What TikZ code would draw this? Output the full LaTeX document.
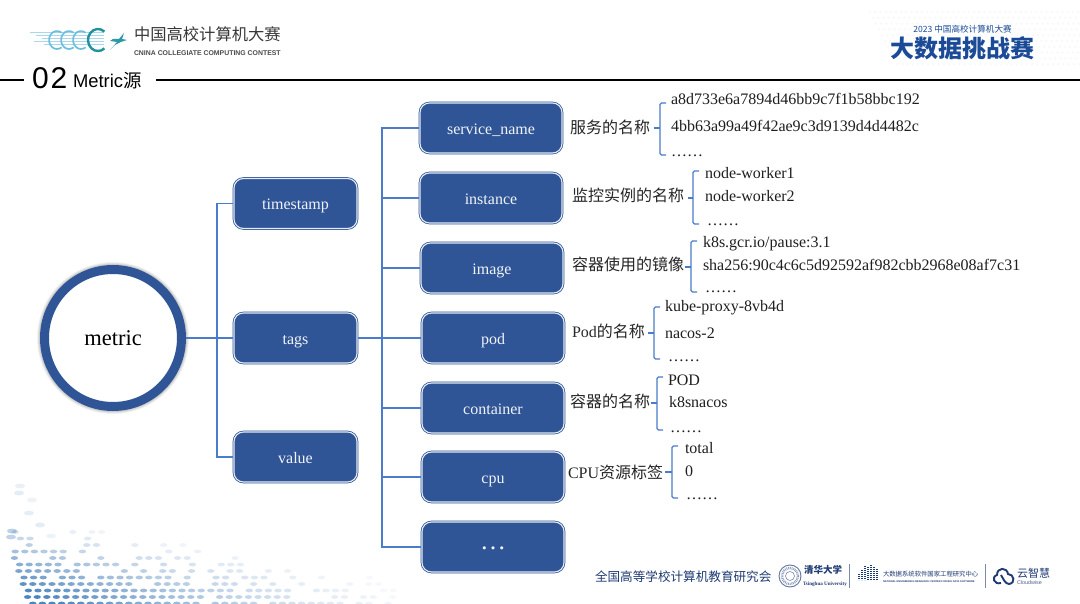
\documentclass[tikz,border=0pt]{standalone}
\usepackage{fontspec}
\setmainfont{Liberation Serif}
\newfontfamily\hei{Noto Sans CJK SC}
\newfontfamily\arial{Liberation Sans}
\definecolor{boxblue}{HTML}{2F5597}
\definecolor{linkblue}{HTML}{4A7CCB}
\definecolor{navy}{HTML}{1F3B73}
\definecolor{titleblue}{HTML}{1B4A97}
\definecolor{skyblue}{HTML}{6FBEE0}
\definecolor{dotblue}{HTML}{2F70B2}
\newcommand{\fs}[1]{\fontsize{#1}{#1}\selectfont}
\newcommand{\wordmark}[3]{\node[plain,anchor=west,text=#3] at (#1) {#2};}
% square bracket with a centre tick: x, top, middle, bottom, tick start
\newcommand{\bracketmark}[5]{\draw[bracketline] (#1+6,#2) -- (#1,#2) -- (#1,#4) -- (#1+6,#4);
  \draw[link] (#5,#3) -- (#1,#3);}
\tikzset{
  plain/.style={inner sep=0pt,outer sep=0pt},
  field/.style={draw=boxblue,fill=boxblue,double=white!88!boxblue,double distance=1.1pt,line width=.75pt,
    rounded corners=9.5pt,minimum width=142pt,minimum height=50pt,inner sep=0pt,outer sep=1.3pt,
    text=white!93!boxblue,font=\fs{16},text height=13pt,text depth=0pt},
  topfield/.style={field,minimum width=123pt},
  meaning/.style={plain,anchor=west,font=\fs{16}\hei,text=black!85},
  sample/.style={plain,anchor=base west,font=\fs{16},text=black!88},
  link/.style={draw=linkblue,line width=1.3pt},
  bracketline/.style={draw=linkblue,line width=1.3pt,rounded corners=1.5pt},
}
\begin{document}
\begin{tikzpicture}[x=1pt,y=-1pt]
\useasboundingbox (0,0) rectangle (1080,604);
\fill[white] (0,0) rectangle (1080,604);

% dotted wave, lower left
\pgfmathsetseed{11}
\foreach \i in {0,...,38}{
  \foreach \j in {0,...,19}{
    \pgfmathsetmacro{\px}{\i*9.6-12+\j*2.2+mod(\j,2)*3}
    \pgfmathsetmacro{\py}{480+\j*6.5}
    \pgfmathsetmacro{\t}{(\py-(520+\px*0.13))/60}
    \pgfmathsetmacro{\keep}{rnd}
    \pgfmathsetmacro{\op}{min(0.85,max(0,0.1+\t*0.7)*(1-\px/440))}
    \pgfmathparse{(\keep<(0.12+\t*0.85))&&(\op>0.03)?1:0}
    \ifnum\pgfmathresult=1
      \fill[dotblue,opacity=\op] (\px,\py) circle[x radius=3.7,y radius=1.9];
    \fi
  }
}
\foreach \x/\y/\o in {20/486/.1,19/493/.13,32/500/.08,29/513/.12,40/525/.13,12/531/.32,11/537/.3,51/536/.08}
  \fill[dotblue,opacity=\o] (\x,\y) circle[x radius=5,y radius=2.4];

% faint dots behind the contest title
\foreach \i in {0,...,40}{
  \foreach \j in {0,...,9}{
    \pgfmathsetmacro{\px}{870+\i*5.2+\j*3}
    \pgfmathsetmacro{\py}{12+\j*5.8}
    \fill[boxblue,opacity=.03] (\px,\py) circle[radius=1.5];
  }
}

% contest emblem
\foreach \yy/\xa in {32/30,35/36,38/42,41/34,44/44}
  \draw[skyblue!60,line width=.8pt] (\xa,\yy) -- (104,\yy);
\foreach \cx in {57,69,81}
  \draw[skyblue,line width=1.7pt] (\cx,40) ++(-55:8 and 9) arc[start angle=-55,end angle=-305,x radius=8,y radius=9];
\draw[teal!70!skyblue,line width=2.4pt] (98,40) ++(-50:10 and 11) arc[start angle=-50,end angle=-310,x radius=10,y radius=11];
\fill[teal!60!skyblue] (110,50) -- (117,42) -- (110,41) -- (113,39) -- (119,39) -- (124,33) -- (122,39) -- (127,40) -- (121,42) -- (115,45) -- cycle;
\wordmark{134,34}{\hei\fs{16.3}中国高校计算机大赛}{black!78}
\wordmark{134,53}{\arial\fs{6.9}\bfseries CNINA COLLEGIATE COMPUTING CONTEST}{black!70}

% section heading
\draw[black,line width=1.4pt] (0,80) -- (24,80);
\draw[black,line width=1.4pt] (156,80) -- (1080,80);
\wordmark{32,78}{\arial\fs{30}0\hspace{2pt}2}{black}
\wordmark{73,81}{\arial\fs{18.4}Metric{\hei 源}}{black}

% contest title
\node[plain,text=titleblue] at (962.5,29) {\hei\fs{8.6}2023 中国高校计算机大赛};
\node[plain,text=titleblue] at (962.5,48) {\hei\bfseries\fs{24}大数据挑战赛};

% soft ring shadow
\foreach \w/\o in {15/.05,13/.07,11/.09}
  \draw[black,opacity=\o,line width=\w pt] (113,338) circle[radius=68.5];

% root and field nodes
\node[circle,draw=boxblue,fill=white,line width=9pt,minimum size=137pt,inner sep=0pt] (metric) at (113,338) {\fs{22.5}metric};
\node[topfield] (timestamp) at (295.5,203.5) {timestamp};
\node[topfield] (tags) at (295.5,338) {tags};
\node[topfield] (value) at (295.5,457) {value};
\node[field] (service) at (491,128) {service\_name};
\node[field] (instance) at (491,198) {instance};
\node[field] (image) at (492,268) {image};
\node[field] (pod) at (493,338) {pod};
\node[field] (container) at (493,408) {container};
\node[field] (cpu) at (493,477) {cpu};
\node[field,font=\fs{26},text height=4pt] (more) at (493,547) {…};

% tree connectors
\coordinate (spineA) at (217,338);
\coordinate (spineB) at (382,338);
\draw[link] (metric.east) -- (tags.west);
\draw[link] (timestamp.west) -| (spineA);
\draw[link] (value.west) -| (spineA);
\draw[link] (tags.east) -- (pod.west);
\draw[link] (service.west) -| (spineB);
\draw[link] (instance.west) -| (spineB);
\draw[link] (image.west) -| (spineB);
\draw[link] (container.west) -| (spineB);
\draw[link] (cpu.west) -| (spineB);
\draw[link] (more.west) -| (spineB);

% field meanings
\node[meaning] at (570,127) {服务的名称};
\node[meaning] at (572,195) {监控实例的名称};
\node[meaning] at (572,264) {容器使用的镜像};
\node[meaning] at (572,331) {{\fontspec{Liberation Serif}Pod}的名称};
\node[meaning] at (570,401) {容器的名称};
\node[meaning] at (568,472) {{\fontspec{Liberation Serif}CPU}资源标签};

% brackets
\bracketmark{660}{103}{128}{155}{654}
\bracketmark{693}{171}{198}{224}{688}
\bracketmark{691}{241}{267}{292}{685}
\bracketmark{654}{307}{333}{359}{648}
\bracketmark{657}{377}{403}{430}{651}
\bracketmark{672}{446}{472}{498}{665}

% sample values
\node[sample] at (671,105) {a8d733e6a7894d46bb9c7f1b58bbc192};
\node[sample] at (671,132) {4bb63a99a49f42ae9c3d9139d4d4482c};
\node[sample] at (671,157) {……};
\node[sample] at (705,179) {node-worker1};
\node[sample] at (705,202) {node-worker2};
\node[sample] at (707,226) {……};
\node[sample] at (703,248) {k8s.gcr.io/pause:3.1};
\node[sample] at (703,271) {sha256:90c4c6c5d92592af982cbb2968e08af7c31};
\node[sample] at (705,293) {……};
\node[sample] at (665,312) {kube-proxy-8vb4d};
\node[sample] at (665,339) {nacos-2};
\node[sample] at (668,362) {……};
\node[sample] at (668,385) {POD};
\node[sample] at (669,407) {k8snacos};
\node[sample] at (670,432) {……};
\node[sample] at (685,453) {total};
\node[sample] at (685,476) {0};
\node[sample] at (686,499) {……};

% footer organisations
\wordmark{595,577}{\hei\fs{12.6}全国高等学校计算机教育研究会}{navy}
\draw[navy!70,line width=.9pt] (790,576) circle[radius=11];
\draw[navy!50,line width=2.4pt,dash pattern=on .8pt off .9pt] (790,576) circle[radius=8];
\draw[navy!60,line width=.6pt] (790,576) circle[radius=4.5];
\wordmark{804,570}{\hei\bfseries\fs{9.5}清华大学}{navy}
\wordmark{803,584}{\rmfamily\bfseries\fs{5.1}Tsinghua University}{navy}
\draw[navy!60,line width=.9pt] (849,564) -- (849,588);
\foreach \x/\t in {859/574,862/570,865/566,868/567,871/565,874/567,877/569}
  \draw[navy,line width=1.5pt,dash pattern=on 1.2pt off .8pt] (\x,\t) -- (\x,580);
\wordmark{883,574}{\hei\fs{6.35}大数据系统软件国家工程研究中心}{navy}
\wordmark{883,582}{\arial\bfseries\fs{2.55}NATIONAL ENGINEERING RESEARCH CENTER FOR BIG DATA SOFTWARE}{navy}
\draw[navy!60,line width=.9pt] (985,564) -- (985,588);
\draw[navy,line width=1.9pt] (1001,583) .. controls (994,585) and (991,577) .. (997,575) .. controls (997,567) and (1007,567) .. (1008,574) .. controls (1014,574) and (1016,583) .. (1009,584) .. controls (1005,584) and (1003,578) .. (1001,575);
\wordmark{1017,573}{\hei\fs{11}云智慧}{navy}
\wordmark{1017,583}{\arial\fs{5.4}Cloudwise}{navy!80}
\end{tikzpicture}
\end{document}
